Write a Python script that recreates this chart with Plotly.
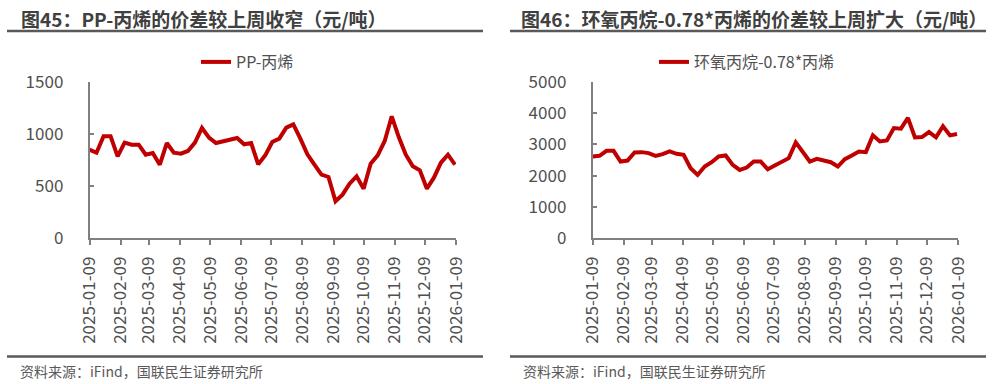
import pandas as pd
import plotly.graph_objects as go

# ---------------- data ----------------
start_date = "2025-01-09"
n_weeks = 53
dates = pd.date_range(start_date, periods=n_weeks, freq="7D")

pp_propylene = [849, 820, 978, 978, 785, 917, 897, 897, 801, 817, 705, 913, 820, 811,
                837, 917, 1058, 965, 913, 929, 945, 962, 901, 913, 708, 795, 923, 955,
                1061, 1093, 955, 804, 705, 609, 587, 353, 417, 522, 593, 474, 715, 795,
                933, 1170, 971, 801, 689, 651, 474, 580, 724, 801, 705]

po_propylene = [2612, 2634, 2795, 2795, 2451, 2483, 2741, 2752, 2720, 2634, 2688, 2774,
                2698, 2666, 2236, 2021, 2290, 2430, 2612, 2645, 2344, 2182, 2258, 2451,
                2451, 2204, 2322, 2430, 2559, 3064, 2774, 2451, 2537, 2483, 2430, 2290,
                2526, 2645, 2774, 2752, 3290, 3096, 3128, 3526, 3505, 3849, 3225, 3236,
                3397, 3225, 3580, 3290, 3333]

series_names = ["PP-丙烯", "环氧丙烷-0.78*丙烯"]
titles = ["图45：PP-丙烯的价差较上周收窄（元/吨）",
          "图46：环氧丙烷-0.78*丙烯的价差较上周扩大（元/吨）"]
source_text = "资料来源：iFind，国联民生证券研究所"
y_ranges = [[0, 1500], [0, 5000]]
y_dticks = [500, 1000]
x_range = ["2025-01-09", "2026-01-09"]

# ---------------- layout helpers ----------------
W, H = 996, 384
def px(x):
    return x / W
def py(y):
    return 1 - y / H

RED = "#C00000"
AX = "#808080"
TXT = "#505050"
FONT = "Noto Sans CJK SC"

fig = go.Figure()
fig.add_trace(go.Scatter(x=dates, y=pp_propylene, mode="lines", name=series_names[0],
                         line=dict(color=RED, width=4), xaxis="x", yaxis="y",
                         legend="legend"))
fig.add_trace(go.Scatter(x=dates, y=po_propylene, mode="lines", name=series_names[1],
                         line=dict(color=RED, width=4), xaxis="x2", yaxis="y2",
                         legend="legend2"))

plot_y = [py(238), py(82)]
xdoms = [[px(89.5), px(456)], [px(592.5), px(958)]]

common_x = dict(type="date", range=x_range, tick0="2025-01-09", dtick="M1",
                tickformat="%Y-%m-%d", tickangle=-90, showgrid=False, zeroline=False,
                showline=True, linecolor=AX, linewidth=1.5, ticks="outside",
                ticklen=5, tickcolor=AX, tickwidth=1.5, automargin=False,
                tickfont=dict(family=FONT, size=17, color=TXT), ticklabelstandoff=5)
common_y = dict(showgrid=False, zeroline=False, showline=True, linecolor=AX,
                linewidth=1.5, ticks="inside", ticklen=5, tickcolor=AX, tickwidth=1.5,
                automargin=False, tickfont=dict(family=FONT, size=17, color=TXT))

layout = dict(
    width=W, height=H, autosize=False,
    margin=dict(l=0, r=0, t=0, b=0, autoexpand=False),
    paper_bgcolor="white", plot_bgcolor="white",
    xaxis=dict(domain=xdoms[0], anchor="y", **common_x),
    yaxis=dict(domain=plot_y, anchor="x", range=y_ranges[0], dtick=y_dticks[0],
               ticklabelstandoff=21, **common_y),
    xaxis2=dict(domain=xdoms[1], anchor="y2", **common_x),
    yaxis2=dict(domain=plot_y, anchor="x2", range=y_ranges[1], dtick=y_dticks[1],
                ticklabelstandoff=21, **common_y),
    legend=dict(x=px(196), y=py(62), xanchor="left", yanchor="middle",
                orientation="h", bgcolor="rgba(0,0,0,0)",
                font=dict(family=FONT, size=16, color=TXT)),
    legend2=dict(x=px(654), y=py(62), xanchor="left", yanchor="middle",
                 orientation="h", bgcolor="rgba(0,0,0,0)",
                 font=dict(family=FONT, size=16, color=TXT)),
    showlegend=True,
)
fig.update_layout(**layout)

# titles, rules and source notes
title_x = [19, 519]
rule_x = [[7, 483], [510, 986]]
for i in range(2):
    fig.add_annotation(text="<b>" + titles[i] + "</b>", x=px(title_x[i]), y=py(18),
                       xref="paper", yref="paper", xanchor="left", yanchor="middle",
                       showarrow=False, font=dict(family=FONT, size=19, color="#404040"))
    fig.add_shape(type="line", xref="paper", yref="paper",
                  x0=px(rule_x[i][0]), x1=px(rule_x[i][1]), y0=py(31), y1=py(31),
                  line=dict(color="#595959", width=2.5))
    fig.add_shape(type="line", xref="paper", yref="paper",
                  x0=px(rule_x[i][0]), x1=px(rule_x[i][1]), y0=py(356.5), y1=py(356.5),
                  line=dict(color="#595959", width=2.5))
    fig.add_annotation(text=source_text, x=px(rule_x[i][0] + 11), y=py(371),
                       xref="paper", yref="paper", xanchor="left", yanchor="middle",
                       showarrow=False, font=dict(family=FONT, size=14, color="#595959"))

fig.write_html("out.html", config={"displayModeBar": False},
               post_script="document.body.style.margin='0';")
